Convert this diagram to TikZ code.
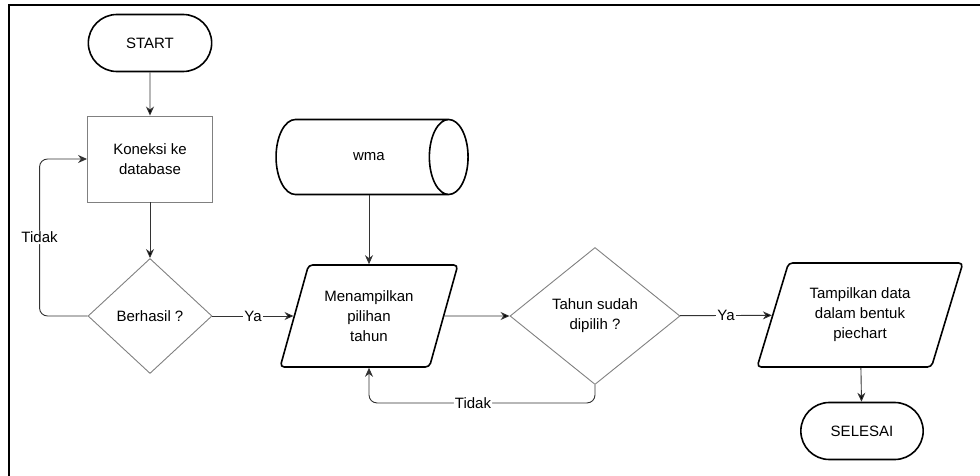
\documentclass[tikz,border=0pt]{standalone}
\usepackage{fontspec}
\setmainfont{Liberation Sans}
\usetikzlibrary{shapes.geometric,shapes.misc,arrows.meta}

\begin{document}
\begin{tikzpicture}
[x=1pt,y=-1pt,font=\fontsize{15}{20}\selectfont,
 terminal/.style={rounded rectangle,draw,line width=1.6pt,minimum height=57pt},
 proses/.style={rectangle,draw=gray,line width=0.9pt,align=center,minimum width=125pt,minimum height=86pt},
 keputusan/.style={diamond,draw=gray,line width=0.9pt,align=center,inner sep=0pt},
 io/.style={trapezium,trapezium left angle=68,trapezium right angle=112,trapezium stretches=true,
   draw,line width=1.6pt,rounded corners=4pt,align=center,inner sep=1pt},
 simpan/.style={cylinder,draw,line width=1.6pt,shape aspect=2.6,minimum width=75pt,minimum height=192pt},
 alur/.style={draw=black!80,line width=0.9pt,-{Stealth[length=9pt,width=8pt]}},
 ket/.style={fill=white,inner sep=1pt}]
   \useasboundingbox (0,0) rectangle (980,476);
   \draw[line width=2pt] (980,5) -| (9,476);

   \node[terminal,minimum width=130pt] (start) at (150,43) {START};
   \node[proses] (koneksi) at (150,159) {Koneksi ke\\database};
   \node[keputusan,minimum width=124pt,minimum height=115pt] (berhasil) at (150,316) {Berhasil ?};
   \node[simpan] (wma) at (358,157) {\hspace*{22pt}wma};
   \node[io,minimum width=178pt,minimum height=102pt] (menampilkan) at (369,316) {Menampilkan\\pilihan\\tahun};
   \node[keputusan,minimum width=170pt,minimum height=137pt] (tahun) at (595,316) {Tahun sudah\\dipilih ?};
   \node[io,minimum width=206pt,minimum height=104pt] (tampilkan) at (860,315) {Tampilkan data\\dalam bentuk\\piechart};
   \node[terminal,minimum width=129pt] (selesai) at (862,431) {SELESAI};

   \path[alur]
    (start) edge (koneksi)
    (koneksi) edge (berhasil)
    (berhasil) edge node[ket] {Ya} (menampilkan)
    (menampilkan) edge (tahun)
    (tahun) edge node[ket] {Ya} (tampilkan)
    (tampilkan) edge (selesai);
   \draw[alur] (wma.south -| menampilkan.north) -- (menampilkan.north);

   \draw[alur,rounded corners=8pt] (berhasil.west) -- ++(-48,0) |- node[ket,pos=0.25] {Tidak} (koneksi.west);
   \draw[alur,rounded corners=8pt] (tahun.south) -- ++(0,18) -| node[ket,pos=0.27] {Tidak} (menampilkan.south);

\end{tikzpicture}
\end{document}
